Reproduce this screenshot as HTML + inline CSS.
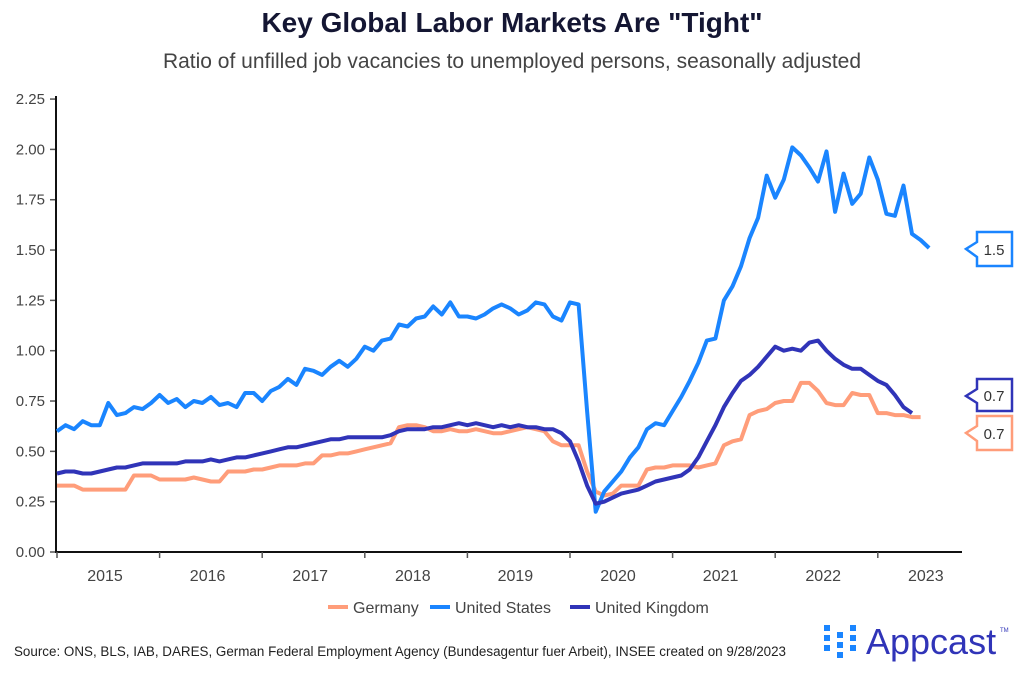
<!DOCTYPE html>
<html><head><meta charset="utf-8"><style>
body{margin:0;background:#fff;width:1024px;height:673px;overflow:hidden;font-family:"Liberation Sans",sans-serif}
</style></head><body>
<svg id="s" width="1024" height="673" xmlns="http://www.w3.org/2000/svg" font-family="Liberation Sans, sans-serif">
<text x="512" y="32" text-anchor="middle" font-size="28" font-weight="bold" fill="#141633">Key Global Labor Markets Are "Tight"</text>
<text x="512" y="68" text-anchor="middle" font-size="21" fill="#444">Ratio of unfilled job vacancies to unemployed persons, seasonally adjusted</text>
<g id="ax" font-size="15" fill="#444"></g>
<g id="lines" fill="none" stroke-width="4" stroke-linejoin="round"></g>
<g font-size="15" fill="#333">
<path d="M977,232 H1012 V266 H977 V257 L966,249 L977,242 Z" fill="#fff" stroke="#1a85ff" stroke-width="2.5"/>
<text x="994" y="255" text-anchor="middle">1.5</text>
<path d="M977,379 H1012 V411 H977 V403 L966,396 L977,389 Z" fill="#fff" stroke="#3034b8" stroke-width="2.5"/>
<text x="994" y="401" text-anchor="middle">0.7</text>
<path d="M977,416 H1012 V450 H977 V441 L966,433 L977,426 Z" fill="#fff" stroke="#ff9d7a" stroke-width="2.5"/>
<text x="994" y="439" text-anchor="middle">0.7</text>
</g>
<g font-size="16" fill="#444">
<line x1="328" y1="607" x2="348" y2="607" stroke="#ff9d7a" stroke-width="4"/><text x="353" y="613">Germany</text>
<line x1="430" y1="607" x2="450" y2="607" stroke="#1a85ff" stroke-width="4"/><text x="455" y="613">United States</text>
<line x1="570" y1="607" x2="590" y2="607" stroke="#3034b8" stroke-width="4"/><text x="595" y="613">United Kingdom</text>
</g>
<text x="14" y="656" font-size="13.4" fill="#222" textLength="772">Source: ONS, BLS, IAB, DARES, German Federal Employment Agency (Bundesagentur fuer Arbeit), INSEE created on 9/28/2023</text>
<g fill="#1a85ff">
<rect x="824" y="625" width="6" height="6"/><rect x="824" y="635" width="6" height="6"/><rect x="824" y="645" width="6" height="6"/>
<rect x="837" y="632" width="6" height="6"/><rect x="837" y="642" width="6" height="6"/><rect x="837" y="652" width="6" height="6"/>
<rect x="850" y="625" width="6" height="6"/><rect x="850" y="635" width="6" height="6"/><rect x="850" y="645" width="6" height="6"/>
</g>
<text x="866" y="654" font-size="36" fill="#3034b8">Appcast</text>
<text x="1000" y="632" font-size="6" fill="#3034b8">TM</text>
</svg>
<script>
var s=document.getElementById('ax'),L=document.getElementById('lines');
function y(v){return 552-201.3*v}function x(i){return 57+8.55*i}
var h='';
for(var k=0;k<=9;k++){var v=k*0.25,yy=y(v);h+='<line x1="50" y1="'+yy+'" x2="56" y2="'+yy+'" stroke="#555" stroke-width="1.5"/><text x="45" y="'+(yy+5)+'" text-anchor="end">'+v.toFixed(2)+'</text>';}
h+='<line x1="56" y1="96" x2="56" y2="553" stroke="#111" stroke-width="2"/><line x1="55" y1="552" x2="962" y2="552" stroke="#111" stroke-width="2"/>';
for(var yr=0;yr<9;yr++){var xx=x(yr*12);h+='<line x1="'+xx+'" y1="552" x2="'+xx+'" y2="558" stroke="#555" stroke-width="1.5"/>';h+='<text x="'+(xx+48)+'" y="581" text-anchor="middle" font-size="16">'+(2015+yr)+'</text>';}
s.innerHTML=h;
var US=[0.60,0.63,0.61,0.65,0.63,0.63,0.74,0.68,0.69,0.72,0.71,0.74,0.78,0.74,0.76,0.72,0.75,0.74,0.77,0.73,0.74,0.72,0.79,0.79,0.75,0.80,0.82,0.86,0.83,0.91,0.90,0.88,0.92,0.95,0.92,0.96,1.02,1.00,1.05,1.06,1.13,1.12,1.16,1.17,1.22,1.18,1.24,1.17,1.17,1.16,1.18,1.21,1.23,1.21,1.18,1.20,1.24,1.23,1.17,1.15,1.24,1.23,0.70,0.20,0.30,0.35,0.40,0.47,0.52,0.61,0.64,0.63,0.70,0.77,0.85,0.94,1.05,1.06,1.25,1.32,1.42,1.56,1.66,1.87,1.76,1.85,2.01,1.97,1.91,1.84,1.99,1.69,1.88,1.73,1.78,1.96,1.85,1.68,1.67,1.82,1.58,1.55,1.51];
var DE=[0.33,0.33,0.33,0.31,0.31,0.31,0.31,0.31,0.31,0.38,0.38,0.38,0.36,0.36,0.36,0.36,0.37,0.36,0.35,0.35,0.40,0.40,0.40,0.41,0.41,0.42,0.43,0.43,0.43,0.44,0.44,0.48,0.48,0.49,0.49,0.50,0.51,0.52,0.53,0.54,0.62,0.63,0.63,0.62,0.60,0.60,0.61,0.60,0.60,0.61,0.60,0.59,0.59,0.60,0.61,0.62,0.61,0.60,0.55,0.53,0.53,0.53,0.40,0.30,0.28,0.29,0.33,0.33,0.33,0.41,0.42,0.42,0.43,0.43,0.43,0.42,0.43,0.44,0.53,0.55,0.56,0.68,0.70,0.71,0.74,0.75,0.75,0.84,0.84,0.80,0.74,0.73,0.73,0.79,0.78,0.78,0.69,0.69,0.68,0.68,0.67,0.67];
var UK=[0.39,0.40,0.40,0.39,0.39,0.40,0.41,0.42,0.42,0.43,0.44,0.44,0.44,0.44,0.44,0.45,0.45,0.45,0.46,0.45,0.46,0.47,0.47,0.48,0.49,0.50,0.51,0.52,0.52,0.53,0.54,0.55,0.56,0.56,0.57,0.57,0.57,0.57,0.57,0.58,0.60,0.61,0.61,0.61,0.62,0.62,0.63,0.64,0.63,0.64,0.63,0.62,0.63,0.62,0.63,0.62,0.62,0.61,0.61,0.59,0.55,0.45,0.33,0.24,0.25,0.27,0.29,0.30,0.31,0.33,0.35,0.36,0.37,0.38,0.41,0.47,0.55,0.63,0.72,0.79,0.85,0.88,0.92,0.97,1.02,1.00,1.01,1.00,1.04,1.05,1.00,0.96,0.93,0.91,0.91,0.88,0.85,0.83,0.78,0.72,0.69];
function pl(d,c){return '<polyline stroke="'+c+'" points="'+d.map(function(v,i){return x(i).toFixed(1)+','+y(v).toFixed(1)}).join(' ')+'"/>'}
L.innerHTML=pl(DE,'#ff9d7a')+pl(US,'#1a85ff')+pl(UK,'#3034b8');
</script>
</body></html>
